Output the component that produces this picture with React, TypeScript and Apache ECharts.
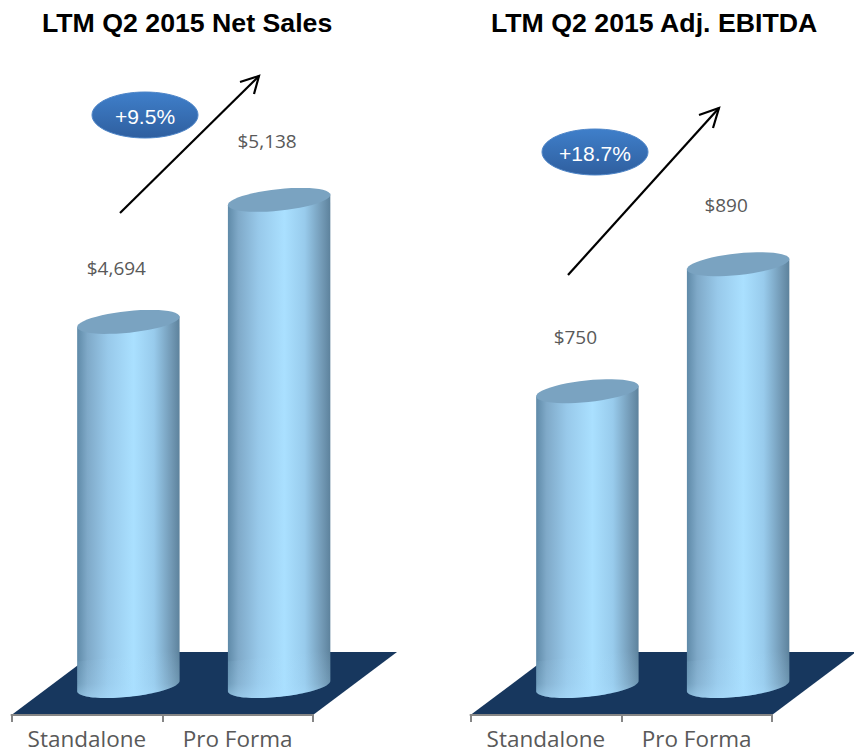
import React, { useEffect, useRef } from "react";
import * as echarts from "echarts";

const categories = ["Standalone", "Pro Forma"];
const titles = ["LTM Q2 2015 Net Sales", "LTM Q2 2015 Adj. EBITDA"];
const netSales = [4694, 5138];
const adjEbitda = [750, 890];
const netSalesRange = [3369, 5607];
const adjEbitdaRange = [425, 1103];
const badges = ["+9.5%", "+18.7%"];

const GRID_TOP = 100;
const GRID_BOTTOM = 715;
const PANEL_LEFT = [11.5, 470.5];
const PANEL_W = 301.5;
const DEPTH_X = 84;
const DEPTH_Y = 63;
const BASE_DX = 41.5;
const BASE_DY = 29;
const TILT = 0.105;
const RX = 51.5;
const RY = 10.8;
const LABEL_LIFT = [54, 59];

const bodyFill = new echarts.graphic.LinearGradient(0, 0, 1, 0, [
  { offset: 0, color: "#5f8aa8" },
  { offset: 0.1, color: "#7fa9c8" },
  { offset: 0.3, color: "#98c9ea" },
  { offset: 0.55, color: "#aae0ff" },
  { offset: 0.75, color: "#98cbec" },
  { offset: 0.92, color: "#7299b5" },
  { offset: 1, color: "#5d829c" },
]);
const footGlow = new echarts.graphic.LinearGradient(0, 0, 0, 1, [
  { offset: 0, color: "rgba(170,222,255,0)" },
  { offset: 0.7, color: "rgba(170,222,255,0.2)" },
  { offset: 1, color: "rgba(170,222,255,0.55)" },
]);
const badgeFill = new echarts.graphic.LinearGradient(0, 0, 0, 1, [
  { offset: 0, color: "#3f7fca" },
  { offset: 1, color: "#2f5f9f" },
]);

const floorSeries = (gridIndex: number) => ({
  type: "custom",
  xAxisIndex: gridIndex,
  yAxisIndex: gridIndex,
  silent: true,
  z: 1,
  data: [[0, 0]],
  clip: false,
  renderItem: (params: any) => {
    const c = params.coordSys;
    const b = c.y + c.height;
    return {
      type: "polygon",
      shape: {
        points: [
          [c.x, b],
          [c.x + c.width, b],
          [c.x + c.width + DEPTH_X, b - DEPTH_Y],
          [c.x + DEPTH_X, b - DEPTH_Y],
        ],
      },
      style: { fill: "#17375e" },
    };
  },
});

// Point on the tilted ellipse of a cylinder's end, t in radians.
const rimPoint = (cx: number, cy: number, t: number) => {
  const th = Math.atan(TILT);
  const ex = RX * Math.cos(t);
  const ey = RY * Math.sin(t);
  return [cx + ex * Math.cos(th) + ey * Math.sin(th), cy - ex * Math.sin(th) + ey * Math.cos(th)];
};

const cylinderSeries = (gridIndex: number, values: number[], fmt: (v: number) => string) => ({
  type: "custom",
  xAxisIndex: gridIndex,
  yAxisIndex: gridIndex,
  silent: true,
  z: 3,
  clip: false,
  data: values.map((v, i) => [i, v]),
  renderItem: (params: any, api: any) => {
    const i = api.value(0);
    const v = api.value(1);
    const [x, yTop] = api.coord([i, v]);
    const c = params.coordSys;
    const cx = x + BASE_DX;
    const top = yTop - BASE_DY;
    const base = c.y + c.height - BASE_DY;
    const STEPS = 48;
    const lower: number[][] = [];
    const capPts: number[][] = [];
    for (let k = 0; k <= STEPS; k++) {
      lower.push(rimPoint(cx, base, Math.PI - (k / STEPS) * Math.PI));
      capPts.push(rimPoint(cx, top, (k / STEPS) * 2 * Math.PI));
    }
    const body = [rimPoint(cx, top, Math.PI), ...lower, rimPoint(cx, top, 0)];
    const foot = [rimPoint(cx, base - 30, Math.PI), ...lower, rimPoint(cx, base - 30, 0)];
    return {
      type: "group",
      children: [
        { type: "polygon", shape: { points: body }, style: { fill: bodyFill } },
        { type: "polygon", shape: { points: foot }, style: { fill: footGlow } },
        { type: "polygon", shape: { points: capPts }, style: { fill: "#7aa3c1" } },
        {
          type: "text",
          style: {
            x: cx - 12,
            y: top - LABEL_LIFT[i],
            text: fmt(v),
            fill: "#595959",
            font: "19px 'Open Sans'",
            align: "center",
            verticalAlign: "middle",
          },
        },
      ],
    };
  },
});

const dollars = (v: number) => "$" + v.toLocaleString("en-US");

const arrow = (x1: number, y1: number, x2: number, y2: number, barbs: number[][]) => [
  { type: "line", shape: { x1, y1, x2, y2 }, style: { stroke: "#000", lineWidth: 2.2 } },
  {
    type: "polyline",
    shape: { points: [barbs[0], [x2, y2], barbs[1]] },
    style: { stroke: "#000", lineWidth: 2.2, fill: "none" },
  },
];

const badge = (cx: number, cy: number, text: string) => [
  {
    type: "ellipse",
    shape: { cx, cy, rx: 53, ry: 23 },
    style: { fill: badgeFill, stroke: "#4f86c8", lineWidth: 1 },
  },
  {
    type: "text",
    style: {
      x: cx,
      y: cy + 1.5,
      text,
      fill: "#fff",
      font: "21px 'Liberation Sans'",
      align: "center",
      verticalAlign: "middle",
    },
  },
];

const option: any = {
  animation: false,
  backgroundColor: "#fff",
  title: titles.map((text, i) => ({
    text,
    left: i === 0 ? 42 : 491,
    top: 9,
    padding: 0,
    textStyle: {
      fontFamily: "'Liberation Sans'",
      fontWeight: "bold",
      fontSize: 26.7,
      color: "#000",
    },
  })),
  grid: PANEL_LEFT.map((left) => ({
    left,
    width: PANEL_W,
    top: GRID_TOP,
    height: GRID_BOTTOM - GRID_TOP,
  })),
  xAxis: [0, 1].map((g) => ({
    type: "category",
    gridIndex: g,
    data: categories,
    axisLine: { show: true, onZero: false, lineStyle: { color: "#868686", width: 2 } },
    axisTick: { show: true, length: 7, lineStyle: { color: "#868686", width: 2 } },
    axisLabel: {
      color: "#595959",
      fontFamily: "'Open Sans'",
      fontSize: 22.5,
      margin: 12,
      interval: 0,
    },
    z: 2,
  })),
  yAxis: [netSalesRange, adjEbitdaRange].map((r, g) => ({
    type: "value",
    gridIndex: g,
    min: r[0],
    max: r[1],
    show: false,
  })),
  series: [
    floorSeries(0),
    floorSeries(1),
    cylinderSeries(0, netSales, dollars),
    cylinderSeries(1, adjEbitda, dollars),
  ],
  graphic: [
    ...arrow(120, 213, 259, 76, [[240, 82], [254, 94]]),
    ...arrow(568, 275, 719, 108, [[699, 115], [713, 128]]),
    ...badge(145, 115, badges[0]),
    ...badge(595, 152, badges[1]),
  ],
};

export default function App() {
  const ref = useRef<HTMLDivElement>(null);
  useEffect(() => {
    document.body.style.margin = "0";
    const chart = echarts.init(ref.current!, undefined, { renderer: "svg" });
    chart.setOption(option);
    return () => chart.dispose();
  }, []);
  return <div ref={ref} style={{ width: 854, height: 753 }} />;
}
